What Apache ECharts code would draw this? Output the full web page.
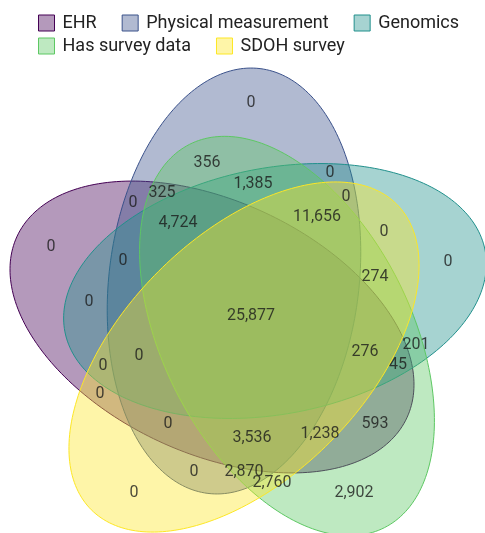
<!DOCTYPE html>
<html>
<head>
<meta charset="utf-8">
<title>Data availability overlap</title>
<script src="https://cdn.jsdelivr.net/npm/echarts@6/dist/echarts.min.js"></script>
<style>
  html, body { margin: 0; padding: 0; background: #ffffff; }
  #chart { width: 485px; height: 533px; }
</style>
</head>
<body>
<div id="chart"></div>
<script>
// Sets shown in the diagram
const setNames = ['EHR', 'Physical measurement', 'Genomics', 'Has survey data', 'SDOH survey'];
const setColors = ['#440154', '#3B528B', '#21908C', '#5DC863', '#FDE725'];

// Participant counts per overlap region
const regionCounts = [
  0, 356, 1385, 0, 325, 0, 0, 4724, 11656, 0,
  0, 0, 0, 274, 0, 25877, 0, 276, 201, 0,
  45, 0, 0, 593, 3536, 1238, 0, 2870, 2760, 0, 2902
];

// Ellipse layout: [centre x, centre y, semi-major, semi-minor, rotation in degrees]
const ellipseLayout = [
  [212, 327, 215, 126, 25],
  [234, 281, 214, 125, 97],
  [275, 291, 214, 123, -11],
  [287, 336, 215, 124, 63],
  [244, 357, 216, 121, -45]
];

// Where each region count sits, in the same order as regionCounts
const labelAnchors = [
  [251, 103], [207, 163], [253, 184], [330, 173], [162, 193], [133, 203], [346, 197],
  [178, 223], [317, 217], [384, 232], [51, 247], [123, 261], [448, 262], [375, 277],
  [89, 302], [251, 316], [139, 356], [365, 352], [416, 345], [103, 366], [398, 365],
  [100, 394], [168, 424], [375, 424], [252, 438], [320, 434], [194, 472], [244, 472],
  [272, 483], [134, 493], [354, 493]
];

function hexToRgba(hex, a) {
  const n = parseInt(hex.slice(1), 16);
  return 'rgba(' + ((n >> 16) & 255) + ',' + ((n >> 8) & 255) + ',' + (n & 255) + ',' + a + ')';
}

const FILL_ALPHA = 0.4;

function ellipseRenderer(fill, stroke) {
  return function (params, api) {
    const cx = api.value(0), cy = api.value(1);
    const a = api.value(2), b = api.value(3);
    const r = api.value(4) * Math.PI / 180;
    const pts = [];
    const steps = 240;
    for (let i = 0; i < steps; i++) {
      const t = (i / steps) * Math.PI * 2;
      const ex = a * Math.cos(t), ey = b * Math.sin(t);
      pts.push(api.coord([
        cx + ex * Math.cos(r) - ey * Math.sin(r),
        cy + ex * Math.sin(r) + ey * Math.cos(r)
      ]));
    }
    return {
      type: 'polygon',
      shape: { points: pts },
      style: { fill: fill, stroke: stroke, lineWidth: 1 }
    };
  };
}

const ellipseSeries = setNames.map(function (name, i) {
  return {
    type: 'custom',
    name: name,
    coordinateSystem: 'cartesian2d',
    renderItem: ellipseRenderer(hexToRgba(setColors[i], FILL_ALPHA), setColors[i]),
    itemStyle: { color: hexToRgba(setColors[i], FILL_ALPHA) },
    data: [ellipseLayout[i]],
    silent: true,
    z: 2 + i
  };
});

const labelSeries = {
  type: 'scatter',
  name: 'counts',
  symbolSize: 0,
  silent: true,
  z: 20,
  data: regionCounts.map(function (v, i) {
    return { value: [labelAnchors[i][0], labelAnchors[i][1], v] };
  }),
  label: {
    show: true,
    position: 'inside',
    formatter: function (p) { return p.value[2].toLocaleString('en-US'); },
    fontFamily: 'Roboto',
    fontSize: 16,
    color: '#1a1a1a'
  }
};

function legendItems(names) {
  return names.map(function (n) {
    const i = setNames.indexOf(n);
    return {
      name: n,
      icon: 'rect',
      itemStyle: { color: hexToRgba(setColors[i], FILL_ALPHA), borderColor: setColors[i], borderWidth: 1 }
    };
  });
}

const legendText = { fontFamily: 'Roboto', fontSize: 18, color: '#222222', padding: [0, 0, 0, 3] };

const chart = echarts.init(document.getElementById('chart'), null, { renderer: 'canvas' });
chart.setOption({
  animation: false,
  backgroundColor: '#ffffff',
  grid: { left: 0, right: 0, top: 0, bottom: 0 },
  xAxis: { type: 'value', min: 0, max: 485, show: false },
  yAxis: { type: 'value', min: 0, max: 533, inverse: true, show: false },
  legend: [
    {
      left: 38, top: 14, padding: 0, orient: 'horizontal', itemWidth: 16, itemHeight: 16, itemGap: 25,
      selectedMode: false, textStyle: legendText,
      data: legendItems(['EHR', 'Physical measurement', 'Genomics'])
    },
    {
      left: 38, top: 37, padding: 0, orient: 'horizontal', itemWidth: 16, itemHeight: 16, itemGap: 25,
      selectedMode: false, textStyle: legendText,
      data: legendItems(['Has survey data', 'SDOH survey'])
    }
  ],
  series: ellipseSeries.concat([labelSeries])
});
</script>
</body>
</html>
